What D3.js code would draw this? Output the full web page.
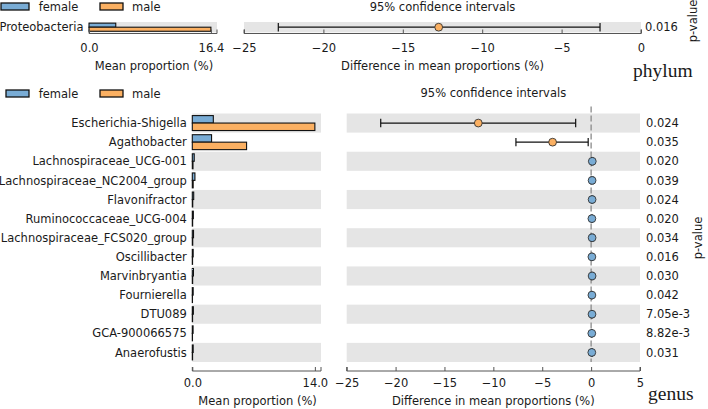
<!DOCTYPE html>
<html><head><meta charset="utf-8">
<script src="https://cdn.jsdelivr.net/npm/d3@7"></script>
<style>
body{margin:0;background:#fff;}
svg{display:block;font-family:"DejaVu Sans",sans-serif;}
</style></head>
<body><svg id="c" width="708" height="409"></svg>
<script>
// ---- data ----
const groups = ["female", "male"];
const phylumNames = ["Proteobacteria"];
const phylumFemale = [3.6];
const phylumMale = [16.4];
const phylumDiff = [-12.74];
const phylumLow = [-22.84];
const phylumHigh = [-2.58];
const phylumP = ["0.016"];

const genusNames = ["Escherichia-Shigella","Agathobacter","Lachnospiraceae_UCG-001","Lachnospiraceae_NC2004_group","Flavonifractor","Ruminococcaceae_UCG-004","Lachnospiraceae_FCS020_group","Oscillibacter","Marvinbryantia","Fournierella","DTU089","GCA-900066575","Anaerofustis"];
const genusFemale = [2.4, 2.2, 0.22, 0.3, 0.16, 0.12, 0.14, 0.1, 0.13, 0.1, 0.12, 0.09, 0.1];
const genusMale   = [14.0, 6.2, 0.08, 0.1, 0.05, 0.04, 0.05, 0.03, 0.04, 0.02, 0.03, 0.02, 0.03];
const genusDiff = [-11.54, -3.94, 0.12, 0.1, 0.1, 0.08, 0.1, 0.08, 0.1, 0.08, 0.09, 0.07, 0.07];
const genusLow  = [-21.52, -7.69, 0.05, 0.0, 0.03, 0.02, 0.0, 0.0, 0.02, 0.03, 0.03, 0.03, 0.01];
const genusHigh = [-1.58, -0.30, 0.19, 0.2, 0.17, 0.14, 0.2, 0.16, 0.18, 0.13, 0.15, 0.11, 0.13];
const genusP = ["0.024","0.035","0.020","0.039","0.024","0.020","0.034","0.016","0.030","0.042","7.05e-3","8.82e-3","0.031"];

const phylumBarTicks = [0, 16.4];
const genusBarTicks = [0, 14.0];
const ciTicksTop = [-25, -20, -15, -10, -5, 0];
const ciTicksBottom = [-25, -20, -15, -10, -5, 0, 5];

// ---- style ----
const colors = {female: "#79acd5", male: "#fbb062"};
const band = "#e5e5e5";
const txt = "#1a1a1a";
const FS = 11.5;
const svg = d3.select("#c");

function legend(x0, y0) {
  const g = svg.append("g");
  const pos = [{x: x0, t: x0 + 33}, {x: 100, t: 132}];
  groups.forEach((k, i) => {
    g.append("rect").attr("x", pos[i].x).attr("y", y0).attr("width", 123 - 100 + (i === 0 ? (29 - x0) - 23 : 0)).attr("height", 7)
      .attr("fill", colors[k]).attr("stroke", "#111").attr("stroke-width", 1.3);
    g.append("text").attr("x", pos[i].t + (i === 0 ? (38.7 - (x0 + 33)) : 0)).attr("y", y0 + 7.5).attr("font-size", FS).attr("fill", txt).text(k);
  });
}

function panel(cfg) {
  const {names, fem, mal, diff, lo, hi, pv, barX, ciX, y0, y1, barTicks, ciTicks, spineY, tickY, labelY, maxFmt, title, titleY, zeroLine, pvalX, taxon, taxonY, taxonX} = cfg;
  const y = d3.scaleBand().domain(names).range([y0, y1]);
  const inner = d3.scaleBand().domain(groups).range([0, y.bandwidth()]).paddingOuter(0.28);

  // bands
  names.forEach((n, i) => {
    if (i % 2 === 0) {
      svg.append("rect").attr("x", barX.range()[0]).attr("y", y(n)).attr("width", barX.range()[1] - barX.range()[0]).attr("height", y.bandwidth()).attr("fill", band);
      svg.append("rect").attr("x", ciX.range()[0]).attr("y", y(n)).attr("width", ciX.range()[1] - ciX.range()[0]).attr("height", y.bandwidth()).attr("fill", band);
    }
  });
  // labels
  names.forEach(n => {
    svg.append("text").attr("x", barX.range()[0] - 5.5).attr("y", y(n) + y.bandwidth() / 2).attr("dy", "0.36em")
      .attr("text-anchor", "end").attr("font-size", FS).attr("fill", txt).text(n);
  });
  // bars
  names.forEach((n, i) => {
    [["female", fem[i]], ["male", mal[i]]].forEach(([k, v]) => {
      svg.append("rect").attr("x", barX(0)).attr("y", y(n) + inner(k)).attr("width", Math.max(0, barX(v) - barX(0))).attr("height", inner.bandwidth())
        .attr("fill", colors[k]).attr("stroke", "#111").attr("stroke-width", 1.1);
    });
  });
  // zero line
  if (zeroLine) {
    svg.append("line").attr("x1", ciX(0)).attr("x2", ciX(0)).attr("y1", y0 - 7).attr("y2", y1)
      .attr("stroke", "#8a8a8a").attr("stroke-width", 1.3).attr("stroke-dasharray", "6,3");
  }
  // CIs
  names.forEach((n, i) => {
    const cy = y(n) + y.bandwidth() / 2;
    const capH = 4.2;
    const g = svg.append("g");
    g.append("line").attr("x1", ciX(lo[i])).attr("x2", ciX(hi[i])).attr("y1", cy).attr("y2", cy).attr("stroke", "#111").attr("stroke-width", 1.2);
    [lo[i], hi[i]].forEach(v => g.append("line").attr("x1", ciX(v)).attr("x2", ciX(v)).attr("y1", cy - capH).attr("y2", cy + capH).attr("stroke", "#111").attr("stroke-width", 1.2));
    g.append("circle").attr("cx", ciX(diff[i])).attr("cy", cy).attr("r", 3.9)
      .attr("fill", diff[i] < 0 ? colors.male : colors.female).attr("stroke", "#333").attr("stroke-width", 0.9);
    svg.append("text").attr("x", pvalX).attr("y", cy).attr("dy", "0.36em").attr("font-size", FS).attr("fill", txt).text(pv[i]);
  });
  // axes
  const ax1 = d3.axisBottom(barX).tickValues(barTicks).tickFormat(d3.format(".1f")).tickSize(-4).tickPadding(0);
  const ax2 = d3.axisBottom(ciX).tickValues(ciTicks).tickFormat(d3.format("d")).tickSize(-4).tickPadding(0);
  [[ax1, barX], [ax2, ciX]].forEach(([ax, sc]) => {
    const g = svg.append("g").attr("transform", `translate(0,${spineY})`).call(ax);
    g.select(".domain").attr("stroke", "#555").attr("d", `M${sc.range()[0]},-4V0H${sc.range()[1]}V-4`);
    g.selectAll(".tick line").attr("stroke", "#555");
    g.selectAll(".tick text").attr("font-size", FS).attr("fill", txt).attr("font-family", "DejaVu Sans").attr("y", tickY - spineY).attr("dy", "0.36em");
  });
  svg.append("text").attr("x", (barX.range()[0] + barX(barTicks[1])) / 2 + 4).attr("y", labelY).attr("dy", "0.36em").attr("text-anchor", "middle").attr("font-size", FS).attr("fill", txt).text("Mean proportion (%)");
  svg.append("text").attr("x", (ciX.range()[0] + ciX.range()[1]) / 2).attr("y", labelY).attr("dy", "0.36em").attr("text-anchor", "middle").attr("font-size", FS).attr("fill", txt).text("Difference in mean proportions (%)");
  svg.append("text").attr("x", (ciX.range()[0] + ciX.range()[1]) / 2).attr("y", titleY).attr("dy", "0.36em").attr("text-anchor", "middle").attr("font-size", FS).attr("fill", txt).text(title);
  const pcy = cfg.pvalLabelY;
  svg.append("text").attr("transform", `translate(${cfg.pvalLabelX},${pcy}) rotate(-90)`).attr("text-anchor", "middle").attr("dy", "0.36em").attr("font-size", FS).attr("fill", txt).text("p-value");
  svg.append("text").attr("x", taxonX).attr("y", taxonY).attr("font-family", "Liberation Serif, serif").attr("font-size", 19.5).attr("fill", txt).text(taxon);
}

legend(1, 3);
panel({
  names: phylumNames, fem: phylumFemale, mal: phylumMale, diff: phylumDiff, lo: phylumLow, hi: phylumHigh, pv: phylumP,
  barX: d3.scaleLinear().domain([0, 16.4 * 1.05]).range([89, 217]),
  ciX: d3.scaleLinear().domain([-25, 0]).range([244, 641]),
  y0: 22, y1: 32.4, barTicks: phylumBarTicks, ciTicks: ciTicksTop,
  spineY: 33.5, tickY: 47.5, labelY: 66, title: "95% confidence intervals", titleY: 6.5, zeroLine: false,
  pvalX: 645, pvalLabelX: 693, pvalLabelY: 21, taxon: "phylum", taxonY: 77, taxonX: 633
});
legend(6, 90);
panel({
  names: genusNames, fem: genusFemale, mal: genusMale, diff: genusDiff, lo: genusLow, hi: genusHigh, pv: genusP,
  barX: d3.scaleLinear().domain([0, 14.0 * 1.05]).range([192.3, 321]),
  ciX: d3.scaleLinear().domain([-25, 5]).range([346.7, 640]),
  y0: 113.5, y1: 362, barTicks: genusBarTicks, ciTicks: ciTicksBottom,
  spineY: 371, tickY: 383, labelY: 400.5, title: "95% confidence intervals", titleY: 93, zeroLine: true,
  pvalX: 646, pvalLabelX: 698, pvalLabelY: 238, taxon: "genus", taxonY: 400, taxonX: 648
});
</script></body></html>
